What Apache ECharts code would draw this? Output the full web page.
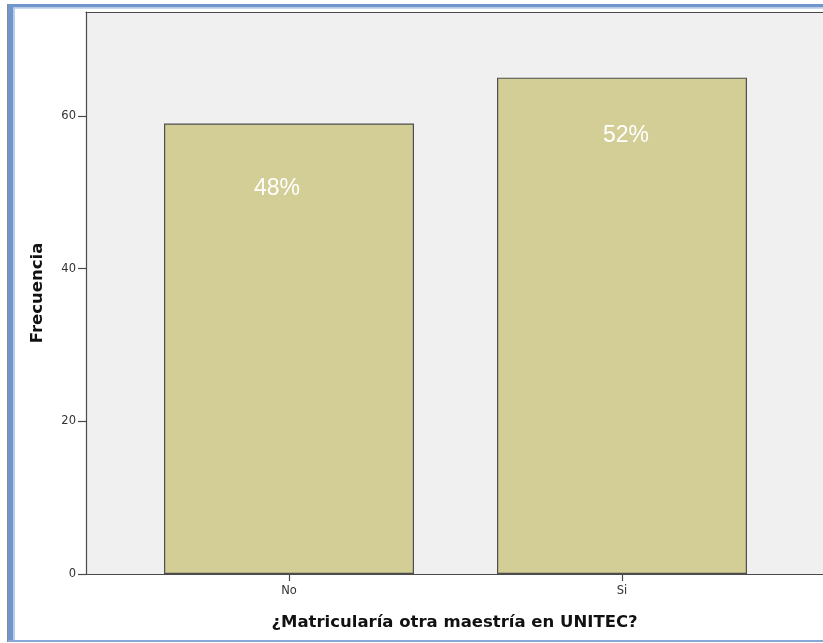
<!DOCTYPE html>
<html>
<head>
<meta charset="utf-8">
<script src="https://cdn.jsdelivr.net/npm/echarts@6/dist/echarts.min.js"></script>
<style>
  html, body { margin: 0; padding: 0; background: #ffffff; }
  #chart { width: 823px; height: 643px; }
</style>
</head>
<body>
<div id="chart"></div>
<script>
// Answers and their frequencies
const categories = ['No', 'Si'];
const frequencies = [59, 65];
const yTickValues = [0, 20, 40, 60];
const yTitle = 'Frecuencia';
const xTitle = '¿Matricularía otra maestría en UNITEC?';

const total = frequencies.reduce((a, b) => a + b, 0);

// Placement tweaks for the percentage labels inside each bar
const labelDistance = [54, 46];
const labelShiftX = [-12, 4];

const yMin = 0;
const yMax = 73.6;

const axisColor = '#4a4a4a';
const tickTextColor = '#333333';

const chart = echarts.init(document.getElementById('chart'), null, { renderer: 'canvas' });

const barData = frequencies.map((v, i) => ({
  value: v,
  label: {
    distance: labelDistance[i],
    offset: [labelShiftX[i], 0]
  }
}));

chart.setOption({
  animation: false,
  backgroundColor: '#ffffff',
  grid: [
    // plot area with grey background, running off the right edge
    { left: 86, top: 12, right: -8, bottom: 69, show: true,
      backgroundColor: '#f0f0f0', borderWidth: 0, containLabel: false },
    // inner band carrying the bars
    { left: 122.5, top: 12, right: 34.5, bottom: 69, containLabel: false }
  ],
  xAxis: [
    {
      gridIndex: 0, type: 'value', min: 0, max: 1, position: 'bottom',
      axisLine: { show: true, onZero: false, lineStyle: { color: axisColor, width: 1.2 } },
      axisTick: { show: false }, axisLabel: { show: false }, splitLine: { show: false },
      name: xTitle, nameLocation: 'middle', nameGap: 40,
      nameTextStyle: { fontFamily: 'DejaVu Sans', fontWeight: 'bold', fontSize: 16.5, color: '#111111' }
    },
    {
      gridIndex: 1, type: 'category', data: categories,
      axisLine: { show: false },
      axisTick: { show: true, alignWithLabel: true, length: 7, lineStyle: { color: axisColor, width: 1.2 } },
      axisLabel: { margin: 11, fontFamily: 'DejaVu Sans', fontSize: 11.5, color: tickTextColor },
      splitLine: { show: false }
    },
    {
      // top edge of the plot area
      gridIndex: 0, type: 'value', min: 0, max: 1, position: 'top',
      axisLine: { show: true, onZero: false, lineStyle: { color: axisColor, width: 1.2 } },
      axisTick: { show: false }, axisLabel: { show: false }, splitLine: { show: false }
    }
  ],
  yAxis: [
    {
      gridIndex: 0, type: 'value', min: yMin, max: yMax,
      axisLine: { show: true, lineStyle: { color: axisColor, width: 1.2 } },
      axisTick: { show: true, length: 8, customValues: yTickValues, lineStyle: { color: axisColor, width: 1.2 } },
      axisLabel: { margin: 10, customValues: yTickValues, fontFamily: 'DejaVu Sans', fontSize: 11.5, color: tickTextColor },
      splitLine: { show: false },
      name: yTitle, nameLocation: 'middle', nameGap: 40, nameRotate: 90,
      nameTextStyle: { fontFamily: 'DejaVu Sans', fontWeight: 'bold', fontSize: 16.5, color: '#111111' }
    },
    {
      gridIndex: 1, type: 'value', min: yMin, max: yMax, show: false,
      splitLine: { show: false }
    }
  ],
  series: [
    {
      type: 'bar',
      xAxisIndex: 1,
      yAxisIndex: 1,
      data: barData,
      barWidth: 250,
      itemStyle: { color: '#d2ce96', borderColor: '#4e4e4e', borderWidth: 1.2 },
      label: {
        show: true,
        position: 'insideTop',
        color: '#ffffff',
        fontFamily: 'Liberation Sans',
        fontSize: 23,
        formatter: p => Math.round(p.value / total * 100) + '%'
      }
    }
  ],
  graphic: [
    // window frame around the chart
    { type: 'rect', z: 100, shape: { x: 7, y: 4, width: 1.5, height: 638 }, style: { fill: '#8a8a8a' } },
    { type: 'rect', z: 100, shape: { x: 8, y: 4, width: 815, height: 3.5 }, style: { fill: '#7096cc' } },
    { type: 'rect', z: 100, shape: { x: 8, y: 4, width: 5.5, height: 638 }, style: { fill: '#7096cc' } },
    { type: 'rect', z: 100, shape: { x: 13.5, y: 7.5, width: 1.5, height: 633 }, style: { fill: '#b9cde9' } },
    { type: 'rect', z: 100, shape: { x: 13.5, y: 7.5, width: 810, height: 1.2 }, style: { fill: '#b9cde9' } },
    { type: 'rect', z: 100, shape: { x: 8, y: 640, width: 815, height: 2 }, style: { fill: '#86a8d8' } }
  ]
});
</script>
</body>
</html>
